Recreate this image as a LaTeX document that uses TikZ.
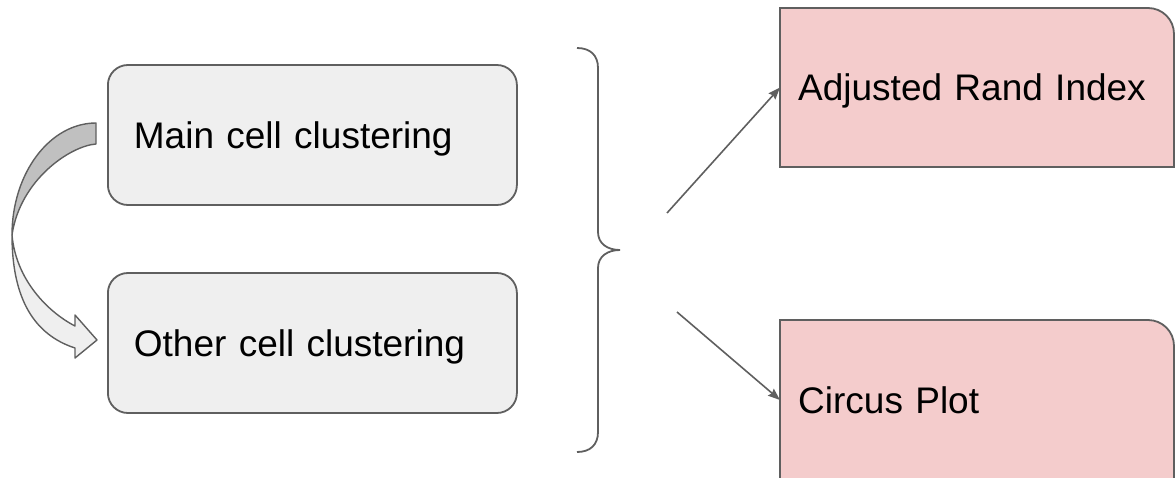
\documentclass[tikz,border=0pt]{standalone}
\usepackage{fontspec}
\setmainfont{Liberation Sans}
\usetikzlibrary{arrows.meta}
\definecolor{edgegray}{HTML}{5F5F5F}
\definecolor{boxgray}{HTML}{EFEFEF}
\definecolor{bandgray}{HTML}{C0C0C0}
\definecolor{pinkfill}{HTML}{F4CCCC}

\begin{document}
\begin{tikzpicture}[x=1pt,y=-1pt,
  labeltext/.style={font=\fontsize{37}{44}\selectfont, text height=26.5pt, text depth=0pt, align=left},
  stagebox/.style={labeltext, draw=edgegray, line width=1.8pt, fill=boxgray, rounded corners=20pt,
    anchor=west, text width=357pt, inner xsep=26pt, inner ysep=0pt, minimum height=140pt},
  metricbox/.style={labeltext, anchor=west, text width=359pt, inner xsep=18pt, inner ysep=0pt},
  metricshape/.style={draw=edgegray, line width=1.8pt, fill=pinkfill, line join=miter},
  link/.style={draw=edgegray, line width=1.6pt, -{Stealth[length=12pt,width=9pt,inset=1.5pt]}},
  bracestroke/.style={draw=edgegray, line width=1.8pt},
  bandedge/.style={draw=edgegray, line width=1.4pt, line join=round},
]
\useasboundingbox (0,0) rectangle (1176,477);

% pink output panels, only the top-right corner rounded
\draw[metricshape] (780,167) -- (780,8) -- (1148,8)
  .. controls (1162.4,8) and (1174,19.6) .. (1174,34) -- (1174,167) -- cycle;
\draw[metricshape] (780,480) -- (780,320) -- (1148,320)
  .. controls (1162.4,320) and (1174,331.6) .. (1174,346) -- (1174,480) -- cycle;

% clustering stages
\node[stagebox] (main)  at (107,135) {Main cell clustering};
\node[stagebox] (other) at (107,343) {Other cell clustering};

% comparison outputs
\node[metricbox, minimum height=159pt] (ari) at (780,87.5) {Adjusted Rand Index};
\node[metricbox, minimum height=160pt] (cp)  at (780,400) {Circus Plot};

% curved block arrow from the main clustering to the other one
\draw[bandedge, fill=bandgray] (96,123) .. controls (50,123) and (12,173) .. (12,235)
  .. controls (20,180) and (70,146) .. (96,144) -- cycle;
\draw[bandedge, fill=boxgray] (12,235) .. controls (12,300) and (35,335) .. (75,348)
  -- (75,358) -- (97,340) -- (75,315) -- (75,326)
  .. controls (48,312) and (16,280) .. (12,235) -- cycle;

% brace grouping both clusterings
\draw[bracestroke] (577,48) .. controls (590,48) and (598,55) .. (598,68)
  -- (598,232) .. controls (598,244) and (608,250) .. (620,250)
  .. controls (608,250) and (598,256) .. (598,268)
  -- (598,432) .. controls (598,445) and (590,452) .. (577,452);

% arrows to the outputs
\coordinate (s1) at (667,213);
\coordinate (s2) at (677,312);
\draw[link] (s1) -- (ari.west);
\draw[link] (s2) -- (cp.west);
\end{tikzpicture}
\end{document}
